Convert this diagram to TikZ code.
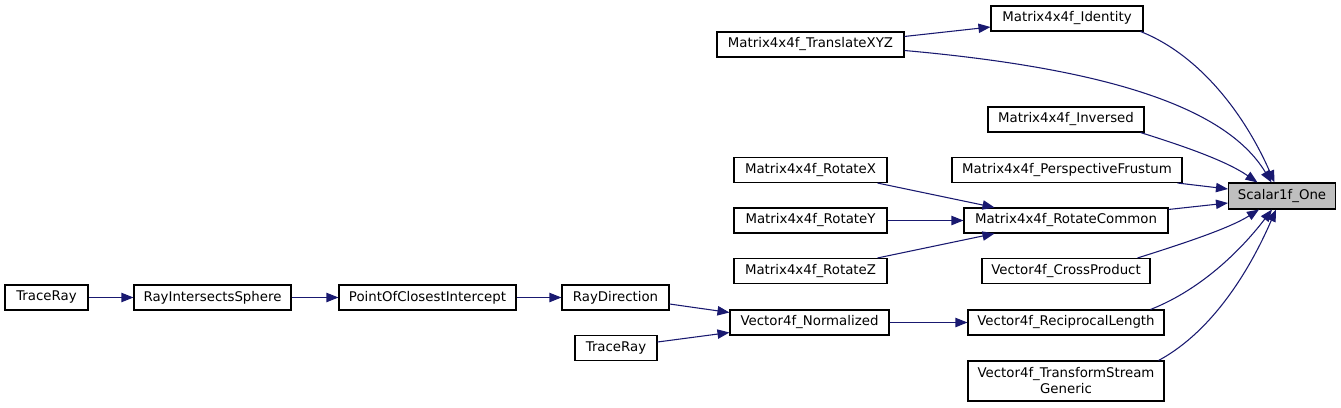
\documentclass[tikz,border=0pt]{standalone}
\usepackage{fontspec}
\setmainfont{DejaVu Sans}
\usetikzlibrary{calc,arrows.meta}
\definecolor{edgeblue}{HTML}{191970}
\definecolor{hlgray}{HTML}{BFBFBF}
\begin{document}
\begin{tikzpicture}[x=0.75pt,y=-0.75pt,
  box/.style={draw=black,line width=0.8pt,fill=white,inner sep=0pt,
    minimum height=25*0.75pt,font=\fontsize{10}{12}\selectfont,align=center},
  bw/.style={minimum width=#1*0.75pt},
  edge/.style={draw=edgeblue,line width=0.8pt,
    -{Triangle[length=9pt,width=7pt]}}]
\useasboundingbox (0,0) rectangle (1341,407);
\fill[white] (0,0) rectangle (1341,407);
% nodes
\node[box,bw=152] (id)  at (1067,18.5) {Matrix4x4f\_Identity};
\node[box,bw=187] (tr)  at (810.5,44.5) {Matrix4x4f\_TranslateXYZ};
\node[box,bw=156] (inv) at (1066,119.5) {Matrix4x4f\_Inversed};
\node[box,bw=230] (pf)  at (1067,170) {Matrix4x4f\_PerspectiveFrustum};
\node[box,bw=107,minimum height=26*0.75pt,fill=hlgray] (one) at (1282,196) {Scalar1f\_One};
\node[box,bw=153] (rx)  at (810.5,170) {Matrix4x4f\_RotateX};
\node[box,bw=153] (ry)  at (810.5,220.5) {Matrix4x4f\_RotateY};
\node[box,bw=204] (rc)  at (1066,220.5) {Matrix4x4f\_RotateCommon};
\node[box,bw=153] (rz)  at (810.5,271) {Matrix4x4f\_RotateZ};
\node[box,bw=168] (cp)  at (1066,271) {Vector4f\_CrossProduct};
\node[box,bw=83]  (t1)  at (46.5,297.5) {TraceRay};
\node[box,bw=157] (ris) at (212.5,297.5) {RayIntersectsSphere};
\node[box,bw=177] (poc) at (427.5,297.5) {PointOfClosestIntercept};
\node[box,bw=107] (rd)  at (615.5,297.5) {RayDirection};
\node[box,bw=159] (nor) at (809.5,322.5) {Vector4f\_Normalized};
\node[box,bw=82]  (t2)  at (616,348) {TraceRay};
\node[box,bw=196] (rl)  at (1066,322.5) {Vector4f\_ReciprocalLength};
\node[box,bw=196,minimum height=40*0.75pt] (ts) at (1066,381) {Vector4f\_TransformStream\\Generic};
% edges
\draw[edge] ($(tr.north east)+(0,5)$) -- ($(id.west)+(0,8.5)$);
\draw[edge] ($(id.south east)+(-3,0)$) .. controls (1200,55) and (1245,115) .. ($(one.north west)+(46.5,0)$);
\draw[edge] ($(tr.east)+(0,6)$) .. controls (1100,68) and (1225,105) .. ($(one.north west)+(43.5,0)$);
\draw[edge] ($(inv.south east)+(-4,0)$) .. controls (1180,145) and (1225,160) .. ($(one.north west)+(29.5,0)$);
\draw[edge] ($(pf.south east)+(-5,0)$) -- ($(one.west)+(0,-7)$);
\draw[edge] ($(rc.north east)+(0,2)$) -- ($(one.west)+(0,7)$);
\draw[edge] ($(cp.north east)+(-13,0)$) .. controls (1185,243) and (1230,228) .. ($(one.south west)+(31,0)$);
\draw[edge] ($(rl.north east)+(-14,0)$) .. controls (1205,288) and (1245,245) .. ($(one.south west)+(44,0)$);
\draw[edge] ($(ts.north east)+(-6,0)$) .. controls (1215,330) and (1252,265) .. ($(one.south west)+(48,0)$);
\draw[edge] ($(rx.south east)+(-10,0)$) -- ($(rc.north west)+(31,0)$);
\draw[edge] (ry.east) -- (rc.west);
\draw[edge] ($(rz.north east)+(-10,0)$) -- ($(rc.south west)+(31,0)$);
\draw[edge] (t1.east) -- (ris.west);
\draw[edge] (ris.east) -- (poc.west);
\draw[edge] (poc.east) -- (rd.west);
\draw[edge] ($(rd.east)+(0,6.5)$) -- ($(nor.west)+(0,-10)$);
\draw[edge] ($(t2.east)+(0,-6)$) -- ($(nor.west)+(0,10)$);
\draw[edge] (nor.east) -- (rl.west);
\end{tikzpicture}
\end{document}
